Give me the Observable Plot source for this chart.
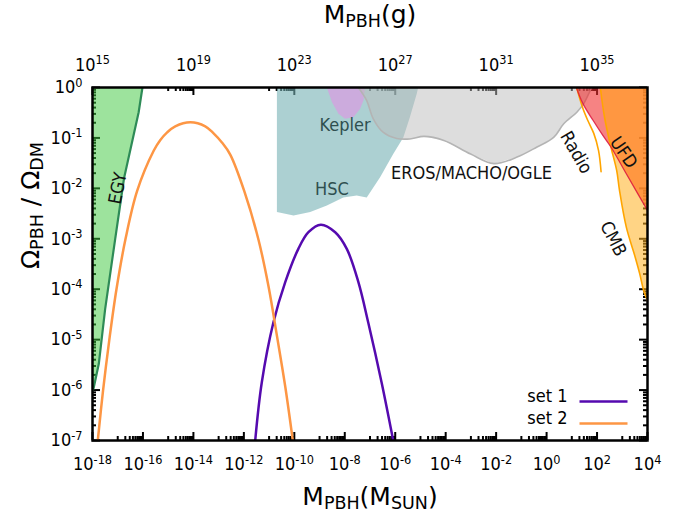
<!DOCTYPE html>
<html>
<head>
<meta charset="utf-8">
<script src="https://cdn.jsdelivr.net/npm/d3@7"></script>
<script src="https://cdn.jsdelivr.net/npm/@observablehq/plot@0.6"></script>
<style>
  html, body { margin: 0; padding: 0; background: #fff; }
  #chart svg { display: block; }
</style>
</head>
<body>
<div id="chart"></div>
<script>
// ---------------- data (log10 values) ----------------
// axis ticks
const bottomTickExp = [-18, -16, -14, -12, -10, -8, -6, -4, -2, 0, 2, 4];
const leftTickExp = [0, -1, -2, -3, -4, -5, -6, -7];
const gramTickExp = [15, 19, 23, 27, 31, 35];
const gramPerSunExp = 33;
const minorMultipliers = [1, 2, 3, 4, 5, 6, 7, 8, 9];

// set 1 (purple)
const set1LogM     = [-11.55, -11.29, -10.83, -10.36, -9.84, -9.44, -8.95, -8.38, -7.92, -7.46, -7.07, -6.54, -6.08];
const set1LogOmega = [-7.0, -5.85, -4.66, -3.86, -3.20, -2.87, -2.72, -2.87, -3.20, -3.86, -4.66, -5.85, -7.0];

// set 2 (orange)
const set2LogM     = [-17.79, -17.58, -17.32, -17.05, -16.69, -16.23, -15.57, -15.31, -15.04, -14.72, -14.12, -13.53, -13.20, -12.87, -12.54, -11.98, -11.42, -11.02, -10.69, -10.36, -10.06];
const set2LogOmega = [-7.0, -6.0, -4.95, -4.0, -3.0, -2.05, -1.25, -1.04, -0.89, -0.77, -0.69, -0.77, -0.91, -1.09, -1.33, -2.06, -3.02, -3.95, -4.92, -5.93, -7.0];

// EGY boundary
const egyLogM     = [-18.0, -17.95, -17.75, -17.50, -17.10, -16.75, -16.17, -16.02];
const egyLogOmega = [-6.02, -5.95, -5.48, -4.40, -3.00, -1.80, -0.49, 0.0];

// HSC region
const hscLogM     = [-10.69, -10.69, -10.03, -9.37, -8.71, -8.06, -7.53, -7.13, -6.60, -6.08, -5.68, -5.42, -5.15, -5.09];
const hscLogOmega = [0.0, -2.47, -2.54, -2.47, -2.34, -2.18, -2.14, -2.18, -1.78, -1.32, -0.99, -0.59, -0.13, 0.0];

// Kepler region
const keplerLogM     = [-8.71, -8.51, -8.25, -7.99, -7.66, -7.39, -7.26, -7.20];
const keplerLogOmega = [0.0, -0.29, -0.52, -0.62, -0.59, -0.42, -0.26, 0.0];

// EROS/MACHO/OGLE region
const erosLogM     = [-7.46, -7.13, -6.87, -6.47, -5.94, -5.42, -4.86, -4.07, -3.01, -2.09, -1.17, -0.38, 0.28, 0.68, 1.20, 1.47, 1.73, 1.79];
const erosLogOmega = [0.0, -0.26, -0.62, -0.89, -1.01, -1.02, -0.97, -1.05, -1.32, -1.51, -1.38, -1.18, -0.99, -0.72, -0.49, -0.32, -0.06, 0.0];

// red boundary (lower edge of the red and UFD regions)
const redLogM     = [1.18, 1.44, 1.84, 2.23, 2.55, 3.16, 3.62, 4.0];
const redLogOmega = [0.0, -0.32, -0.65, -0.95, -1.18, -1.71, -2.11, -2.44];

// red region
const pinkLogM     = [1.18, 2.13, 2.30, 2.55, 2.23, 1.84, 1.44];
const pinkLogOmega = [0.0, 0.0, -0.60, -1.18, -0.95, -0.65, -0.32];

// UFD region
const ufdLogM     = [2.13, 4.0, 4.0, 3.62, 3.16, 2.55, 2.30];
const ufdLogOmega = [0.0, 0.0, -2.44, -2.11, -1.71, -1.18, -0.60];

// CMB boundary
const cmbLogM     = [2.13, 2.30, 2.55, 2.78, 2.89, 3.16, 3.51, 3.69, 3.85, 4.0];
const cmbLogOmega = [0.0, -0.60, -1.18, -1.65, -2.04, -2.77, -3.36, -3.69, -4.03, -4.23];
const cmbFillLogM     = [2.13, 2.30, 2.55, 2.78, 2.89, 3.16, 3.51, 3.69, 3.85, 4.0, 4.0];
const cmbFillLogOmega = [0.0, -0.60, -1.18, -1.65, -2.04, -2.77, -3.36, -3.69, -4.03, -4.23, 0.0];

// Radio line
const radioLogM     = [1.19, 1.43, 1.63, 1.87, 2.06, 2.16];
const radioLogOmega = [0.0, -0.40, -0.65, -0.91, -1.25, -1.67];

// region labels
const darkLabels = ["Kepler", "HSC"];
const darkLabelLogM = [-7.99, -8.51];
const darkLabelLogOmega = [-0.75, -2.02];
const blackLabels = ["EGY", "EROS/MACHO/OGLE", "Radio", "UFD", "CMB"];
const blackLabelLogM = [-16.99, -2.98, 1.17, 3.05, 2.64];
const blackLabelLogOmega = [-2.0, -1.71, -1.29, -1.29, -3.0];

// legend
const seriesNames = ["set 1", "set 2"];

// ---------------- styles ----------------
const blackLabelAngle = [-79, 0, 60, 55, 63];
const colSet1 = "#550aaf";
const colSet2 = "#fd9644";
const tickFont = "DejaVu Sans Condensed, DejaVu Sans";
const titleFont = "DejaVu Sans";
const W = 688, H = 516, mL = 92, mR = 41, mT = 87, mB = 76;
const plotW = W - mL - mR, plotH = H - mT - mB;

// ---------------- derived tick values ----------------
const pow = e => Math.pow(10, e);
const xMajor = bottomTickExp.map(pow);
const xMinor = bottomTickExp.slice(0, -1).flatMap(e => minorMultipliers.map(j => j * pow(e + 1)));
const topMajor = gramTickExp.map(g => pow(g - gramPerSunExp));
const topMinor = gramTickExp.flatMap(g => minorMultipliers.map(j => j * pow(g - gramPerSunExp + 3))).filter(v => v <= 1e4);
const yMajor = leftTickExp.map(pow);
const yMinor = leftTickExp.filter(e => e < 0).flatMap(e => minorMultipliers.slice(1).map(j => j * pow(e)));

const idx = a => a.map((d, i) => i);
const polygon = (lx, ly, fill, opacity) => Plot.line(idx(lx), {
  x: i => pow(lx[i]), y: i => pow(ly[i]), curve: "linear-closed",
  fill, fillOpacity: opacity, stroke: "none", clip: true
});
const curve = (lx, ly, stroke, width, c = "catmull-rom", op = 1) => Plot.line(idx(lx), {
  x: i => pow(lx[i]), y: i => pow(ly[i]), curve: c,
  stroke, strokeWidth: width, strokeOpacity: op, clip: true
});
const lineSymbol = {draw(ctx) { ctx.moveTo(-24, 0); ctx.lineTo(24, 0); }};
const fmt = d => `10^{${Math.round(Math.log10(d))}}`;

const chart = Plot.plot({
  width: W, height: H,
  marginLeft: mL, marginRight: mR, marginTop: mT, marginBottom: mB,
  x: {type: "log", domain: [1e-18, 1e4]},
  y: {type: "log", domain: [1e-7, 1]},
  style: {background: "white", fontFamily: tickFont, fontSize: "18px", overflow: "visible"},
  marks: [
    // tick marks (inward)
    Plot.tickX(xMajor, {x: d => d, insetTop: plotH - 8, stroke: "black", strokeWidth: 2}),
    Plot.tickX(xMinor, {x: d => d, insetTop: plotH - 4, stroke: "black", strokeWidth: 2}),
    Plot.tickX(topMajor, {x: d => d, insetBottom: plotH - 8, stroke: "black", strokeWidth: 2}),
    Plot.tickX(topMinor, {x: d => d, insetBottom: plotH - 4, stroke: "black", strokeWidth: 2}),
    Plot.tickY(yMajor, {y: d => d, insetRight: plotW - 8, stroke: "black", strokeWidth: 2}),
    Plot.tickY(yMinor, {y: d => d, insetRight: plotW - 4, stroke: "black", strokeWidth: 2}),
    Plot.tickY(yMajor, {y: d => d, insetLeft: plotW - 8, stroke: "black", strokeWidth: 2}),
    Plot.tickY(yMinor, {y: d => d, insetLeft: plotW - 4, stroke: "black", strokeWidth: 2}),

    // constraint regions
    polygon([...egyLogM, -18.0], [...egyLogOmega, 0.0], "#3cc83c", 0.5),
    polygon(hscLogM, hscLogOmega, "#75b1b4", 0.6),
    polygon(keplerLogM, keplerLogOmega, "#cfa6de", 0.9),
    polygon(erosLogM, erosLogOmega, "#bbbbbb", 0.5),
    curve(erosLogM, erosLogOmega, "#b4b4b4", 1.6),
    polygon(cmbFillLogM, cmbFillLogOmega, "#ffb020", 0.55),
    polygon(ufdLogM, ufdLogOmega, "#ff872f", 0.8),
    polygon(pinkLogM, pinkLogOmega, "#f03030", 0.6),
    curve(egyLogM, egyLogOmega, "#2e8b57", 2.2, "linear"),
    curve(cmbLogM, cmbLogOmega, "#ffa500", 1.6),
    curve(radioLogM, radioLogOmega, "#ffa500", 1.6),
    curve(redLogM, redLogOmega, "#dc143c", 1.3, "catmull-rom", 0.85),

    // spectra
    curve(set1LogM, set1LogOmega, colSet1, 2.5),
    curve(set2LogM, set2LogOmega, colSet2, 2.5),

    // region labels
    Plot.text(darkLabels, {x: (d, i) => pow(darkLabelLogM[i]), y: (d, i) => pow(darkLabelLogOmega[i]),
      fill: "#2f4f4f", fontSize: 18, fontFamily: tickFont}),
    Plot.text(blackLabels, {x: (d, i) => pow(blackLabelLogM[i]), y: (d, i) => pow(blackLabelLogOmega[i]),
      rotate: (d, i) => blackLabelAngle[i], fill: "#111", fontSize: 18, fontFamily: tickFont}),

    // frame
    Plot.frame({stroke: "black", strokeWidth: 2.5}),

    // tick labels
    Plot.axisX(xMajor, {anchor: "bottom", tickSize: 0, tickPadding: 17, tickFormat: fmt, fontSize: 18, fontFamily: tickFont}),
    Plot.axisX(topMajor, {anchor: "top", tickSize: 0, tickPadding: 17,
      tickFormat: d => `10^{${Math.round(Math.log10(d)) + gramPerSunExp}}`, fontSize: 18, fontFamily: tickFont}),
    Plot.axisY(yMajor, {anchor: "left", tickSize: 0, tickPadding: 10, tickFormat: fmt, fontSize: 18, fontFamily: tickFont}),

    // axis titles
    Plot.text(["M_{PBH}(M_{SUN})"], {frameAnchor: "bottom", dy: 64, lineAnchor: "bottom", fontSize: 25, fontFamily: titleFont}),
    Plot.text(["M_{PBH}(g)"], {frameAnchor: "top", dy: -65, lineAnchor: "bottom", fontSize: 25, fontFamily: titleFont}),
    Plot.text(["Ω_{PBH} / Ω_{DM}"], {frameAnchor: "left", dx: -62, dy: 5, rotate: -90, fontSize: 25, fontFamily: titleFont}),

    // legend
    Plot.text([seriesNames[0]], {frameAnchor: "bottom-right", textAnchor: "end", dx: -80, dy: -39, fontSize: 18, fontFamily: tickFont}),
    Plot.text([seriesNames[1]], {frameAnchor: "bottom-right", textAnchor: "end", dx: -80, dy: -17, fontSize: 18, fontFamily: tickFont}),
    Plot.dot([seriesNames[0]], {frameAnchor: "bottom-right", dx: -44, dy: -39, symbol: lineSymbol, fill: "none", stroke: colSet1, strokeWidth: 2.5}),
    Plot.dot([seriesNames[1]], {frameAnchor: "bottom-right", dx: -44, dy: -17, symbol: lineSymbol, fill: "none", stroke: colSet2, strokeWidth: 2.5})
  ]
});

document.getElementById("chart").appendChild(chart);

// superscript / subscript markup -> tspans
const SVGNS = "http://www.w3.org/2000/svg";
chart.querySelectorAll("text").forEach(t => {
  const s = t.textContent;
  if (!/[\^_]\{/.test(s)) return;
  const fs = parseFloat(getComputedStyle(t).fontSize) || 18;
  t.textContent = "";
  const re = /([\^_])\{([^}]*)\}|([^\^_]+)/g;
  let m, shift = 0;
  while ((m = re.exec(s))) {
    const ts = document.createElementNS(SVGNS, "tspan");
    let target;
    if (m[3] !== undefined) { ts.textContent = m[3]; target = 0; }
    else {
      ts.textContent = m[2];
      ts.setAttribute("font-size", (fs * 0.7).toFixed(1));
      target = m[1] === "^" ? -0.37 * fs : 0.18 * fs;
    }
    const d = target - shift;
    if (d) ts.setAttribute("dy", d.toFixed(1));
    shift = target;
    t.appendChild(ts);
  }
});
</script>
</body>
</html>
